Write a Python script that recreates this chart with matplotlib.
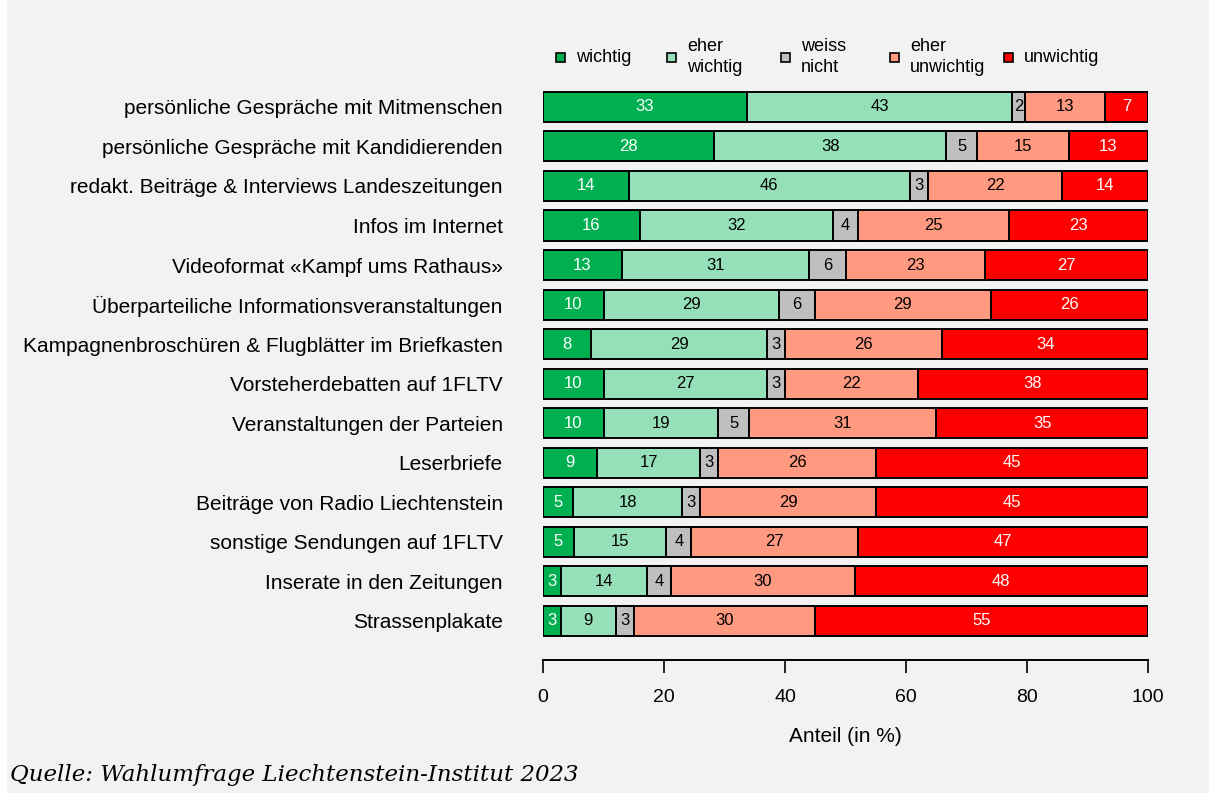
import numpy as np
import matplotlib.pyplot as plt
from matplotlib.patches import Rectangle

# Daten (gerundete Anteile in %, wie im Diagramm beschriftet)
kategorien = [
    "persönliche Gespräche mit Mitmenschen",
    "persönliche Gespräche mit Kandidierenden",
    "redakt. Beiträge & Interviews Landeszeitungen",
    "Infos im Internet",
    "Videoformat «Kampf ums Rathaus»",
    "Überparteiliche Informationsveranstaltungen",
    "Kampagnenbroschüren & Flugblätter im Briefkasten",
    "Vorsteherdebatten auf 1FLTV",
    "Veranstaltungen der Parteien",
    "Leserbriefe",
    "Beiträge von Radio Liechtenstein",
    "sonstige Sendungen auf 1FLTV",
    "Inserate in den Zeitungen",
    "Strassenplakate",
]
wichtig = [33, 28, 14, 16, 13, 10, 8, 10, 10, 9, 5, 5, 3, 3]
eher_wichtig = [43, 38, 46, 32, 31, 29, 29, 27, 19, 17, 18, 15, 14, 9]
weiss_nicht = [2, 5, 3, 4, 6, 6, 3, 3, 5, 3, 3, 4, 4, 3]
eher_unwichtig = [13, 15, 22, 25, 23, 29, 26, 22, 31, 26, 29, 27, 30, 30]
unwichtig = [7, 13, 14, 23, 27, 26, 34, 38, 35, 45, 45, 47, 48, 55]

serien = [wichtig, eher_wichtig, weiss_nicht, eher_unwichtig, unwichtig]
legende = ["wichtig", "eher\nwichtig", "weiss\nnicht", "eher\nunwichtig", "unwichtig"]
farben = ["#00B050", "#95E0B9", "#BFBFBF", "#FF9980", "#FF0000"]
textfarben = ["white", "black", "black", "black", "white"]

plt.rcParams['font.family'] = ['Liberation Sans', 'DejaVu Sans']

W, H = 1209, 793
fig = plt.figure(figsize=(W / 100, H / 100), dpi=100)
fig.patch.set_facecolor("white")
fig.add_artist(Rectangle((7 / W, 0), 1, 1, transform=fig.transFigure,
                         facecolor="#F2F2F2", edgecolor="none", zorder=-10))

ax = fig.add_axes([543 / W, 1 - 660 / H, (1148 - 543) / W, (660 - 80) / H])
ax.set_facecolor("none")

werte = np.array(serien, dtype=float)
anteile = werte / werte.sum(axis=0) * 100  # auf 100 % normiert
y = np.arange(len(kategorien))
links = np.zeros(len(kategorien))
for i in range(len(serien)):
    ax.barh(y, anteile[i], left=links, height=0.76, color=farben[i],
            edgecolor="black", linewidth=1.4)
    for j in range(len(kategorien)):
        ax.text(links[j] + anteile[i][j] / 2, y[j], str(int(werte[i][j])),
                ha="center", va="center", fontsize=12, color=textfarben[i])
    links += anteile[i]

ax.set_xlim(0, 100)
ax.set_ylim(13.99, -0.68)
ax.set_yticks(y)
ax.set_yticklabels(kategorien, fontsize=15)
ax.tick_params(axis="y", length=0, pad=29)
ax.set_xticks([0, 20, 40, 60, 80, 100])
ax.tick_params(axis="x", length=9, width=1.2, labelsize=14, pad=12)
for s in ["top", "right", "left"]:
    ax.spines[s].set_visible(False)
ax.spines["bottom"].set_bounds(0, 100)
ax.spines["bottom"].set_linewidth(1.4)
ax.set_xlabel("Anteil (in %)", fontsize=15, labelpad=15)

# Legende
mx = [560, 671, 785, 894, 1008]
for k in range(len(legende)):
    fig.add_artist(Rectangle(((mx[k] - 4.5) / W, 1 - 61.5 / H), 9 / W, 9 / H,
                             transform=fig.transFigure, facecolor=farben[k],
                             edgecolor="black", linewidth=1.2))
    fig.text((mx[k] + 16) / W, 1 - 57 / H, legende[k], ha="left", va="center",
             fontsize=13, linespacing=1.25)

fig.text(10 / W, 1 - 775 / H, "Quelle: Wahlumfrage Liechtenstein-Institut 2023",
         fontsize=16.5, style="italic", family="DejaVu Serif",
         ha="left", va="center")

fig.savefig("out.png", dpi=100)
